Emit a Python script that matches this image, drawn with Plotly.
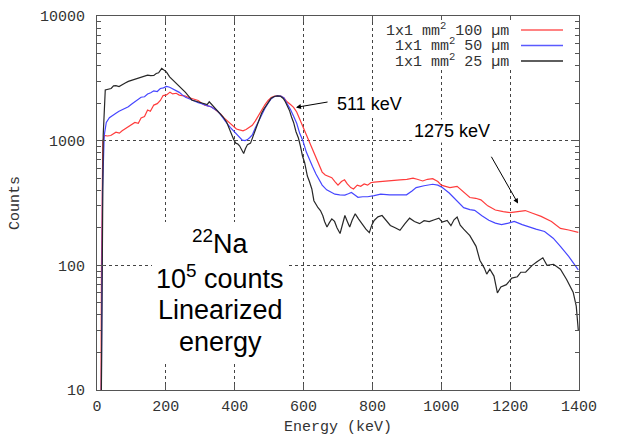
import plotly.graph_objects as go

# ---------------- data ----------------
red_kev = [11, 13, 17, 22, 30, 40, 55, 65, 73, 85, 95, 110, 120, 128, 138, 147, 155, 165, 175, 184,
           192, 202, 212, 220, 230, 239, 248, 257, 266, 276, 285, 294, 304, 313, 322, 331, 340, 350,
           359, 368, 378, 387, 396, 405, 414, 424, 433, 442, 451, 460, 470, 478, 488, 497, 506, 516,
           525, 534, 543, 552, 562, 571, 580, 589, 598, 608, 617, 626, 636, 645, 654, 663, 673, 682,
           691, 700, 710, 719, 727, 737, 745, 756, 766, 776, 786, 795, 805, 820, 840, 860, 880, 900,
           918, 930, 946, 960, 975, 990, 1000, 1012, 1025, 1046, 1065, 1083, 1100, 1115, 1135, 1157,
           1180, 1200, 1222, 1244, 1265, 1290, 1320, 1346, 1370, 1398]
red_cnt = [5, 100, 1000, 1100, 1090, 1100, 1170, 1150, 1200, 1260, 1330, 1400, 1380, 1520, 1560, 1760,
           1720, 1930, 1980, 2100, 2300, 2330, 2450, 2370, 2400, 2320, 2300, 2280, 2220, 2170, 2120,
           2100, 2000, 1930, 1900, 1870, 1800, 1720, 1640, 1530, 1440, 1360, 1300, 1240, 1220, 1200,
           1230, 1270, 1330, 1440, 1600, 1770, 1950, 2100, 2220, 2280, 2290, 2280, 2200, 2050, 1950,
           1850, 1700, 1480, 1300, 1140, 990, 850, 740, 640, 560, 530, 520, 505, 470, 440, 470, 485,
           450, 420, 410, 440, 430, 450, 440, 460, 465, 470, 475, 480, 485, 490, 500, 490, 475, 490,
           495, 470, 440, 430, 420, 430, 390, 350, 345, 335, 300, 278, 270, 265, 270, 275, 262, 247,
           225, 198, 192, 184]

blue_kev = [12, 16, 21, 27, 36, 45, 55, 64, 73, 82, 91, 100, 110, 119, 128, 138, 147, 156, 165, 175,
            184, 193, 202, 211, 220, 230, 239, 248, 257, 266, 276, 285, 294, 304, 313, 322, 331, 340,
            350, 359, 368, 378, 387, 396, 405, 414, 422, 430, 437, 444, 451, 460, 469, 478, 488, 497,
            506, 516, 525, 534, 543, 552, 562, 571, 580, 589, 598, 608, 617, 626, 636, 645, 654, 667,
            680, 691, 705, 720, 730, 739, 750, 758, 772, 786, 805, 824, 850, 880, 899, 915, 927, 950,
            975, 990, 1003, 1023, 1040, 1065, 1083, 1097, 1118, 1138, 1157, 1175, 1195, 1212, 1235,
            1253, 1275, 1300, 1325, 1346, 1370, 1398]
blue_cnt = [5, 400, 1100, 1400, 1530, 1600, 1660, 1720, 1770, 1820, 1870, 1960, 2050, 2120, 2230, 2250,
            2370, 2420, 2510, 2480, 2620, 2650, 2720, 2680, 2600, 2520, 2440, 2330, 2230, 2180, 2110,
            2060, 2020, 1980, 1930, 1900, 1870, 1800, 1730, 1620, 1480, 1370, 1280, 1200, 1125, 1060,
            1010, 1000, 1020, 1060, 1110, 1270, 1440, 1620, 1820, 2000, 2170, 2260, 2290, 2280, 2200,
            1980, 1780, 1570, 1380, 1140, 1000, 810, 700, 620, 540, 490, 440, 403, 385, 372, 368, 366,
            375, 384, 365, 351, 355, 355, 362, 372, 368, 365, 368, 395, 420, 435, 447, 440, 421, 380,
            340, 290, 280, 276, 250, 230, 218, 212, 218, 225, 212, 203, 195, 187, 165, 142, 118, 92]

black_kev = [12, 18, 24, 33, 41, 48, 55, 64, 73, 82, 91, 100, 110, 119, 128, 138, 147, 156, 165, 172,
             179, 188, 195, 202, 211, 220, 230, 239, 248, 257, 266, 276, 285, 294, 304, 313, 320, 326,
             333, 340, 350, 358, 367, 377, 384, 391, 397, 403, 409, 414, 420, 426, 431, 437, 446, 453,
             460, 469, 478, 485, 492, 499, 506, 515, 524, 533, 541, 547, 552, 559, 565, 571, 578, 585,
             591, 597, 603, 611, 617, 624, 630, 636, 642, 649, 656, 661, 668, 675, 682, 690, 697, 706,
             713, 720, 727, 734, 741, 750, 760, 772, 781, 791, 798, 805, 816, 828, 840, 852, 866, 880,
             894, 908, 922, 937, 950, 965, 980, 993, 1003, 1017, 1028, 1037, 1046, 1055, 1065, 1083,
             1101, 1112, 1125, 1132, 1141, 1153, 1163, 1173, 1189, 1205, 1221, 1231, 1245, 1264, 1278,
             1295, 1307, 1326, 1346, 1364, 1383, 1392, 1398]
black_cnt = [5, 1100, 2550, 2600, 2620, 2750, 2760, 2720, 2830, 2900, 2990, 3050, 3100, 3170, 3250,
             3330, 3350, 3330, 3340, 3460, 3500, 3800, 3650, 3550, 3250, 3080, 2900, 2740, 2580, 2440,
             2280, 2110, 2080, 2045, 2000, 1990, 1950, 2050, 1950, 1870, 1760, 1660, 1540, 1400, 1250,
             1100, 1020, 955, 940, 910, 850, 790, 860, 930, 955, 1080, 1240, 1450, 1660, 1800, 1930,
             2060, 2190, 2260, 2290, 2270, 2180, 2050, 1930, 1750, 1550, 1400, 1180, 1050, 900, 750,
             670, 520, 470, 410, 330, 305, 290, 275, 250, 225, 203, 220, 236, 225, 200, 180, 210, 251,
             225, 203, 230, 259, 235, 209, 195, 183, 210, 229, 245, 251, 228, 209, 200, 191, 215, 239,
             225, 216, 228, 224, 232, 239, 222, 229, 208, 232, 244, 210, 195, 173, 142, 110, 95, 85,
             93, 82, 60, 67, 70, 79, 81, 88, 88, 100, 107, 115, 100, 102, 93, 77, 61, 47, 30]

series_names = ["1x1 mm<sup>2</sup> 100 µm", "1x1 mm<sup>2</sup> 50 µm", "1x1 mm<sup>2</sup> 25 µm"]
x_ticks = [0, 200, 400, 600, 800, 1000, 1200, 1400]
y_ticks = [10, 100, 1000, 10000]
y_ticktext = ["10", "100", "1000", "10000"]

# ---------------- figure ----------------
# page body has an 8px margin, so the figure is 8px smaller and the margins compensate
OFF = 8
W, H = 627 - OFF, 439 - OFF
PX0, PX1, PY0, PY1 = 97, 579, 16, 390          # plot area in window pixels
L, T = PX0 - OFF, PY0 - OFF
R, B = W - (PX1 - OFF), H - (PY1 - OFF)
PW, PH = PX1 - PX0, PY1 - PY0


def px(x):
    return (x - PX0) / PW


def py(y):
    return (PY1 - y) / PH


MONO = "Liberation Mono, Courier New, monospace"
SANS = "Liberation Sans, Arial, sans-serif"

colors = ["rgb(255,60,60)", "rgb(70,70,255)", "rgb(40,40,40)"]

fig = go.Figure()
for xs, ys, c, n in [(red_kev, red_cnt, colors[0], series_names[0]),
                     (blue_kev, blue_cnt, colors[1], series_names[1]),
                     (black_kev, black_cnt, colors[2], series_names[2])]:
    fig.add_trace(go.Scatter(x=xs, y=ys, mode="lines", name=n,
                             line=dict(color=c, width=1.2), showlegend=False))

minor_vals = [k * 10 ** d for d in range(1, 4) for k in range(2, 10)]

fig.update_layout(
    width=W, height=H,
    margin=dict(l=L, r=R, t=T, b=B, pad=0, autoexpand=False),
    paper_bgcolor="white", plot_bgcolor="white",
    font=dict(family=MONO, size=15, color="#333"),
    xaxis=dict(range=[0, 1400], tickvals=x_ticks, ticks="inside", ticklen=6,
               tickcolor="#555", showline=True, linecolor="#555", linewidth=1,
               mirror="allticks", showgrid=True, gridcolor="#444", griddash="dot",
               gridwidth=1, zeroline=False, ticklabelstandoff=2, automargin=False,
               tickfont=dict(family=MONO, size=15, color="#333")),
    yaxis=dict(type="log", range=[1, 4], tickvals=y_ticks, ticktext=y_ticktext,
               ticks="inside", ticklen=8, tickcolor="#555", showline=True,
               linecolor="#555", linewidth=1, mirror="allticks", showgrid=True,
               gridcolor="#444", griddash="dot", gridwidth=1, zeroline=False,
               ticklabelstandoff=8, automargin=False,
               minor=dict(tickvals=minor_vals, ticks="inside", ticklen=4,
                          tickcolor="#555", showgrid=False),
               tickfont=dict(family=MONO, size=15, color="#333")),
)

shapes = []
# legend background
shapes.append(dict(type="rect", xref="paper", yref="paper", x0=px(381), x1=px(570),
                   y0=py(69), y1=py(20), fillcolor="white", line=dict(width=0), layer="above"))
# text block background
shapes.append(dict(type="rect", xref="paper", yref="paper", x0=px(152), x1=px(288),
                   y0=py(362), y1=py(222), fillcolor="white", line=dict(width=0), layer="above"))
rows_y = [30, 45.5, 61]
legend_line_colors = ["rgb(255,90,90)", "rgb(90,90,255)", "rgb(40,40,40)"]
for c, yy in zip(legend_line_colors, rows_y):
    shapes.append(dict(type="line", xref="paper", yref="paper", x0=px(521), x1=px(563),
                       y0=py(yy), y1=py(yy), line=dict(color=c, width=1.6), layer="above"))
fig.update_layout(shapes=shapes)

ann = []
for n, yy in zip(series_names, rows_y):
    ann.append(dict(text=n, xref="paper", yref="paper", x=px(511), y=py(yy),
                    xanchor="right", yanchor="middle", showarrow=False,
                    font=dict(family=MONO, size=15, color="#333")))

# axis titles
ann.append(dict(text="Energy (keV)", xref="paper", yref="paper", x=px(338), y=py(427),
                xanchor="center", yanchor="middle", showarrow=False,
                font=dict(family=MONO, size=15, color="#333")))
ann.append(dict(text="Counts", xref="paper", yref="paper", x=px(15), y=py(203),
                xanchor="center", yanchor="middle", showarrow=False, textangle=-90,
                font=dict(family=MONO, size=15, color="#333")))

# text block
block = ["<sup>22</sup>Na", "10<sup>5</sup> counts", "Linearized", "energy"]
block_y = [242, 277, 310, 342]
for t, yy in zip(block, block_y):
    ann.append(dict(text=t, xref="paper", yref="paper", x=px(220), y=py(yy),
                    xanchor="center", yanchor="middle", showarrow=False,
                    font=dict(family=SANS, size=27, color="black")))

# peak labels
ann.append(dict(text="511 keV", xref="paper", yref="paper", x=px(369), y=py(104.5),
                xanchor="center", yanchor="middle", showarrow=False, bgcolor="white",
                font=dict(family=SANS, size=18, color="black")))
ann.append(dict(text="1275 keV", xref="paper", yref="paper", x=px(452), y=py(130.5),
                xanchor="center", yanchor="middle", showarrow=False, bgcolor="white",
                font=dict(family=SANS, size=18, color="black")))
# arrows (log-axis annotation coordinates are log10 values)
ann.append(dict(text="", x=578, y=3.267, ax=674, ay=3.312, xref="x", yref="y",
                axref="x", ayref="y", showarrow=True, arrowhead=2, arrowsize=1,
                arrowwidth=1, arrowcolor="black"))
ann.append(dict(text="", x=1223, y=2.496, ax=1143, ay=2.883, xref="x", yref="y",
                axref="x", ayref="y", showarrow=True, arrowhead=2, arrowsize=1,
                arrowwidth=1, arrowcolor="black"))
fig.update_layout(annotations=ann)

fig.write_html("out.html")
